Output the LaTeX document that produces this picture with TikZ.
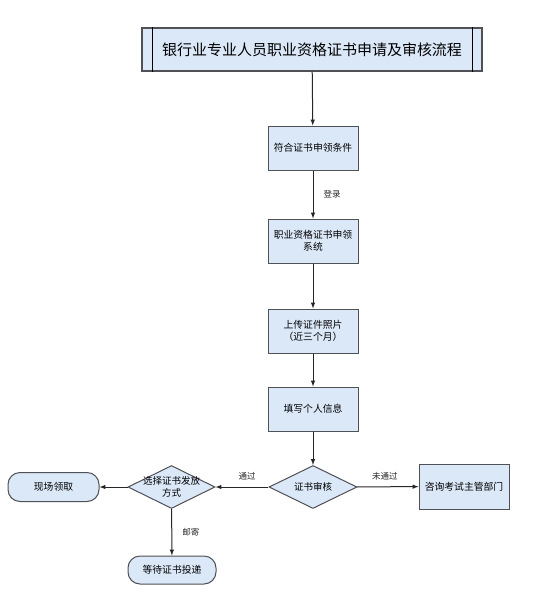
\documentclass[tikz,border=0pt]{standalone}
\usepackage{fontspec}
\setmainfont{Noto Sans CJK SC}
\usetikzlibrary{arrows,shapes.geometric}
\definecolor{boxfill}{RGB}{219,232,248}
\definecolor{boxline}{RGB}{80,80,85}

\begin{document}
\begin{tikzpicture}[x=1pt,y=-1pt,
  box/.style={draw=boxline,line width=1pt,fill=boxfill,minimum width=90pt,minimum height=44pt,inner sep=1pt,align=center,font=\fontsize{9.8}{12}\selectfont},
  decision/.style={draw=boxline,line width=1pt,fill=boxfill,diamond,aspect=2,minimum width=88pt,minimum height=43pt,inner sep=0pt,align=center,font=\fontsize{9.5}{11.5}\selectfont},
  terminal/.style={draw=boxline,line width=1pt,fill=boxfill,rounded corners=12pt,minimum width=90pt,minimum height=29pt,inner sep=1pt,font=\fontsize{9.8}{12}\selectfont},
  arr/.style={-latex,line width=1pt,black!85},
  lbl/.style={font=\fontsize{8.5}{10}\selectfont,inner sep=1pt}]

\useasboundingbox (0,0) rectangle (533,598);

\node[draw=boxline,line width=1.2pt,fill=boxfill,minimum width=340pt,minimum height=43pt,font=\fontsize{15}{18}\selectfont] (title) at (312,49.5) {银行业专业人员职业资格证书申请及审核流程};
\draw[line width=1pt] ([xshift=11pt]title.north west) -- ([xshift=11pt]title.south west);
\draw[line width=1pt] ([xshift=-10pt]title.north east) -- ([xshift=-10pt]title.south east);

\node[box] (cond) at (313,148) {符合证书申领条件};
\node[box] (sys) at (313,241) {职业资格证书申领\\系统};
\node[box] (photo) at (313,331) {上传证件照片\\（近三个月）};
\node[box] (info) at (313,409) {填写个人信息};
\node[decision] (audit) at (313,487) {证书审核};
\node[box,minimum height=45pt] (consult) at (464,486.5) {咨询考试主管部门};
\node[decision,minimum width=87pt] (choose) at (171.5,487) {\makebox[0pt]{选择证书发放}\\方式};
\node[terminal,minimum width=91pt] (onsite) at (53.5,487) {现场领取};
\node[terminal,minimum width=88pt,minimum height=28pt] (wait) at (172,570) {等待证书投递};

\draw[arr] (title) -- (cond);
\draw[arr] (cond) -- node[lbl,right=9pt]{登录} (sys);
\draw[arr] (sys) -- (photo);
\draw[arr] (photo) -- (info);
\draw[arr] (info) -- (audit);
\draw[arr] (audit) -- node[lbl,above=5pt,xshift=-3pt]{未通过} (consult);
\draw[arr] (audit) -- node[lbl,above=5pt,xshift=5pt]{通过} (choose);
\draw[arr] (choose) -- (onsite);
\draw[arr] (choose) -- node[lbl,right=9pt]{邮寄} (wait);
\end{tikzpicture}
\end{document}
